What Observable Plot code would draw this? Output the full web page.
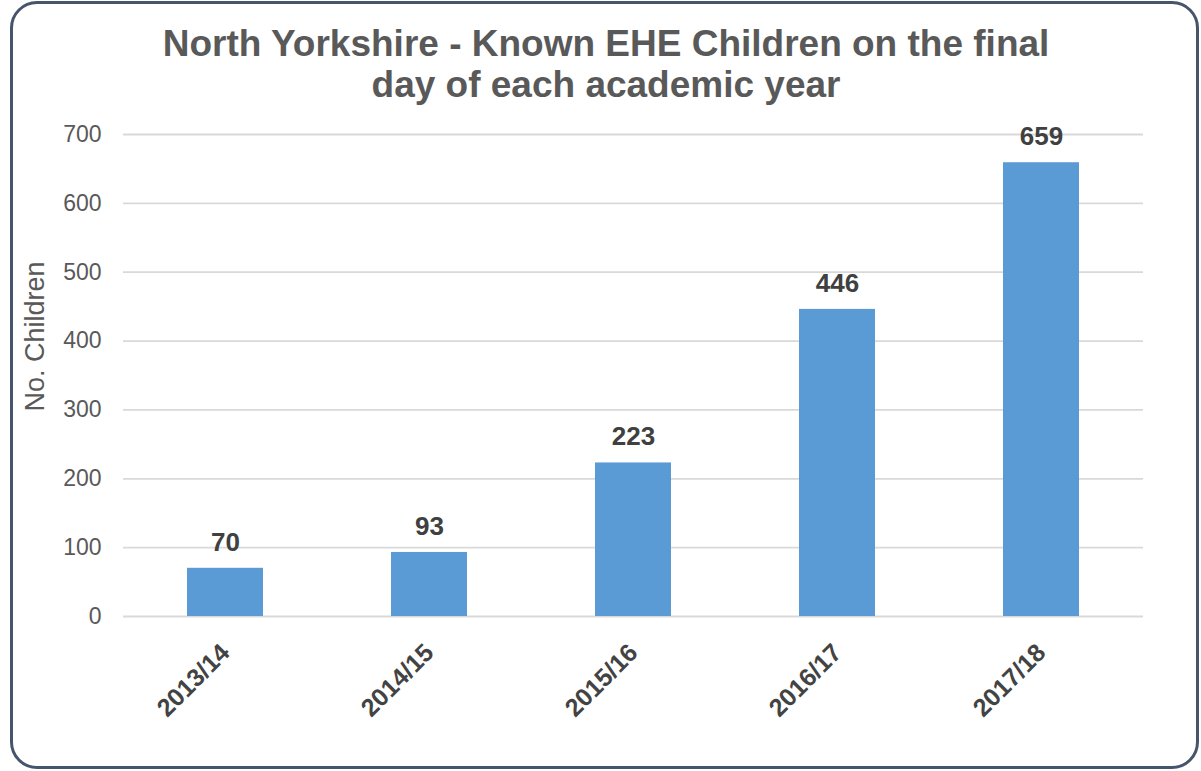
<!DOCTYPE html>
<html>
<head>
<meta charset="utf-8">
<script src="https://cdn.jsdelivr.net/npm/d3@7"></script>
<script src="https://cdn.jsdelivr.net/npm/@observablehq/plot@0.6"></script>
<style>
  html, body { margin: 0; padding: 0; background: #fff; }
  #wrap { position: relative; width: 1201px; height: 771px; overflow: hidden; font-family: "Liberation Sans", Arial, sans-serif; }
  #frame { position: absolute; left: 10px; top: 1px; width: 1189px; height: 768px; box-sizing: border-box; border: 3px solid #46556c; border-radius: 27px; pointer-events: none; }
  #title { position: absolute; left: 106px; width: 1000px; top: 23px; text-align: center; font-weight: bold; font-size: 37px; line-height: 41px; color: #595959; }
  #chart { position: absolute; left: 0; top: 0; }
</style>
</head>
<body>
<div id="wrap">
  <div id="chart"></div>
  <div id="frame"></div>
  <div id="title">North Yorkshire - Known EHE Children on the final<br>day of each academic year</div>
</div>
<script>
const years = ["2013/14", "2014/15", "2015/16", "2016/17", "2017/18"];
const children = [70, 93, 223, 446, 659];
const yTicks = [0, 100, 200, 300, 400, 500, 600, 700];
const yLabel = "No. Children";

const data = years.map((year, i) => ({year, value: children[i]}));

const chart = Plot.plot({
  width: 1201,
  height: 771,
  marginTop: 134,
  marginBottom: 155,
  marginLeft: 123,
  marginRight: 58,
  style: {fontFamily: "'Liberation Sans', Arial, sans-serif", background: "transparent"},
  x: {domain: years, paddingInner: 0.627, paddingOuter: 0.3135, label: null},
  y: {domain: [0, 700], label: null},
  marks: [
    Plot.gridY(yTicks, {stroke: "#d9d9d9", strokeOpacity: 1, strokeWidth: 1.8}),
    Plot.barY(data, {x: "year", y: "value", fill: "#5b9bd5"}),
    Plot.text(data, {x: "year", y: "value", text: d => String(d.value), dy: -26, lineAnchor: "middle", fontSize: 26, fontWeight: "bold", fill: "#404040"}),
    Plot.axisY(yTicks, {tickSize: 0, tickPadding: 22, fontSize: 23, color: "#595959", label: null}),
    Plot.axisX({tickSize: 0, tickPadding: 32, tickRotate: -45, fontSize: 25, fontWeight: "bold", color: "#434343", label: null}),
    Plot.text([yLabel], {frameAnchor: "left", textAnchor: "middle", dx: -88, dy: -39, rotate: -90, fontSize: 27, fill: "#595959", lineAnchor: "middle"})
  ]
});
document.getElementById("chart").appendChild(chart);
</script>
</body>
</html>
